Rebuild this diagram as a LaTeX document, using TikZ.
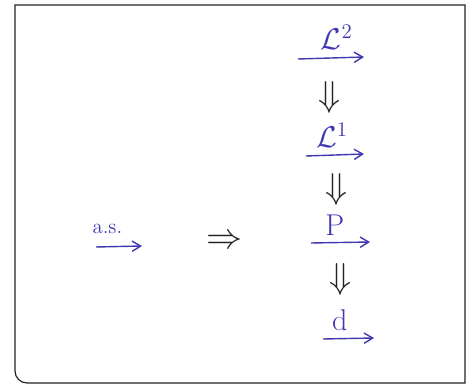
\documentclass[tikz,border=0pt]{standalone}
\usepackage{amsmath}
\usepackage{amssymb}
\usetikzlibrary{arrows.meta,positioning,calc}
\definecolor{pen}{RGB}{64,56,176}
\definecolor{ink}{RGB}{35,35,35}
\begin{document}
\begin{tikzpicture}[x=1pt,y=-1pt,
        conv/.style={-{Straight Barb[length=3mm,width=3.6mm]}, line width=1.4pt, pen},
        lab/.style={text=pen, font=\huge, inner sep=2pt, scale=1.45, transform shape},
        impl/.style={text=ink, font=\Huge, inner sep=0pt, scale=1.45, transform shape}
    ]
        \useasboundingbox (0,0) rectangle (472,390);
        \draw[line width=1.2pt, ink] (15,5) -- (465,5) -- (465,383)
            {[rounded corners=12pt] -- (15,383) -- (15,200)} -- cycle;

        % convergence arrows
        \coordinate (l2s) at (298,59); \coordinate (l2e) at (364,57);
        \coordinate (l1s) at (306,156); \coordinate (l1e) at (364,154);
        \coordinate (ps) at (311,243); \coordinate (pe) at (370,242);
        \coordinate (ds) at (323,339); \coordinate (de) at (374,338);
        \coordinate (ass) at (96,247); \coordinate (ase) at (142,246);

        \draw[conv] (l2s) -- node[lab, above=5pt, xshift=4pt] (l2) {$\mathcal{L}^2$} (l2e);
        \draw[conv] (l1s) -- node[lab, above=4pt, xshift=-2pt] (l1) {$\mathcal{L}^1$} (l1e);
        \draw[conv] (ps) -- node[lab, above=3pt, xshift=-4pt] (p) {P} (pe);
        \draw[conv] (ds) -- node[lab, above=4pt, xshift=-6pt] (d) {d} (de);
        \draw[conv] (ass) -- node[lab, above=9pt, font=\Large, xshift=-8pt] (as) {a.s.} (ase);

        % implications
        \node[impl] (down1) at (330,97) {$\Downarrow$};
        \node[impl] (down2) at (337,189) {$\Downarrow$};
        \node[impl] (down3) at (341,279) {$\Downarrow$};
        \node[impl] (implies) at (225,242) {$\Rightarrow$};
    \end{tikzpicture}
\end{document}
